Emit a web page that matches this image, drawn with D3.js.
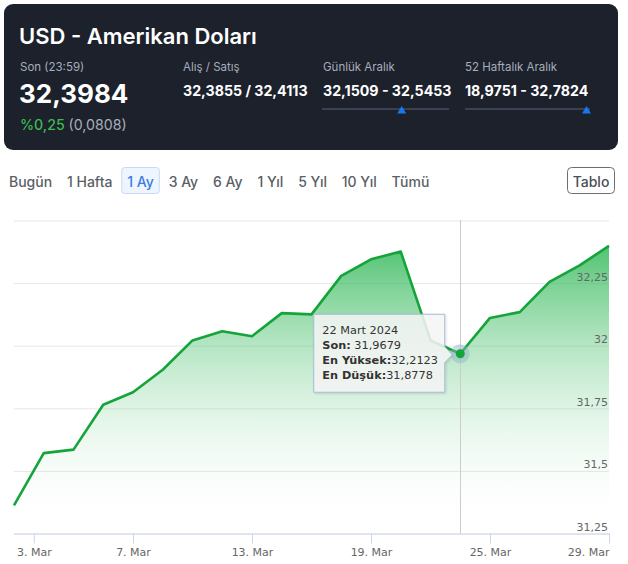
<!DOCTYPE html>
<html><head><meta charset="utf-8">
<script src="https://cdn.jsdelivr.net/npm/d3@7"></script>
<style>body{margin:0;background:#fff;} svg{display:block;}</style>
</head><body><div id="chart"></div>
<script>
// ---- data ----
const dates = ["2024-03-01","2024-03-04","2024-03-05","2024-03-06","2024-03-07","2024-03-08",
  "2024-03-11","2024-03-12","2024-03-13","2024-03-14","2024-03-15",
  "2024-03-18","2024-03-19","2024-03-20","2024-03-21","2024-03-22",
  "2024-03-25","2024-03-26","2024-03-27","2024-03-28","2024-03-29"];
const values = [31.362,31.571,31.585,31.764,31.814,31.904,
  32.021,32.058,32.038,32.130,32.125,
  32.279,32.345,32.376,32.021,31.9679,
  32.111,32.134,32.255,32.320,32.3984];
const xTickDates = ["2024-03-03","2024-03-07","2024-03-13","2024-03-19","2024-03-25","2024-03-29"];
const xTickLabels = ["3. Mar","7. Mar","13. Mar","19. Mar","25. Mar","29. Mar"];
const yTicks = [31.25,31.5,31.75,32,32.25,32.5];
const yTickLabels = ["31,25","31,5","31,75","32","32,25",""];
const rangeButtons = ["Bugün","1 Hafta","1 Ay","3 Ay","6 Ay","1 Yıl","5 Yıl","10 Yıl","Tümü"];
const activeButton = "1 Ay";
const title = "USD - Amerikan Doları";
const statLabels = ["Son (23:59)","Alış / Satış","Günlük Aralık","52 Haftalık Aralık"];
const statValues = ["32,3984","32,3855 / 32,4113","32,1509 - 32,5453","18,9751 - 32,7824"];
const rangeLows = [32.1509, 18.9751];
const rangeHighs = [32.5453, 32.7824];
const rangeCurrent = 32.3984;
const changePct = "%0,25";
const changeAbs = "(0,0808)";
const tooltipIndex = 15;
const tooltipDate = "22 Mart 2024";
const tooltipHigh = 32.2123;
const tooltipLow = 31.8778;

// ---- setup ----
const W = 628, H = 564;
const svg = d3.select("#chart").append("svg").attr("width", W).attr("height", H);
const UI = "Inter, 'Noto Sans', sans-serif";
const CH = "'DejaVu Sans', Verdana, sans-serif";
const loc = d3.formatLocale({decimal: ",", thousands: ".", grouping: [3], currency: ["", ""]});
const fmt4 = loc.format(".4f");

// ---- header panel ----
svg.append("rect").attr("x", 4).attr("y", 4).attr("width", 614).attr("height", 146)
  .attr("rx", 9).attr("fill", "#1c212c");
svg.append("text").attr("x", 19).attr("y", 44).attr("fill", "#fff")
  .attr("font-family", UI).attr("font-weight", 600).attr("font-size", 22).text(title);

const colX = [20, 183, 323, 465];
statLabels.forEach((s, i) => {
  svg.append("text").attr("x", colX[i]).attr("y", 71).attr("fill", "#a7aebb")
    .attr("font-family", UI).attr("font-size", 11.5).text(s);
});
svg.append("text").attr("x", colX[0] - 1).attr("y", 103).attr("fill", "#fff")
  .attr("font-family", UI).attr("font-weight", 700).attr("font-size", 26).text(statValues[0]);
statValues.slice(1).forEach((s, i) => {
  svg.append("text").attr("x", colX[i + 1]).attr("y", 96).attr("fill", "#fff")
    .attr("font-family", UI).attr("font-weight", 700).attr("font-size", 14.2).text(s);
});
const ch = svg.append("text").attr("x", 20).attr("y", 130).attr("font-family", UI).attr("font-size", 14.2);
ch.append("tspan").attr("fill", "#3fb950").attr("font-weight", 500).text(changePct + " ");
ch.append("tspan").attr("fill", "#a7aebb").text(changeAbs);

// range sliders
const sliderX = [[322, 449], [465, 590]];
sliderX.forEach((r, i) => {
  svg.append("line").attr("x1", r[0]).attr("x2", r[1]).attr("y1", 109).attr("y2", 109)
    .attr("stroke", "#394252").attr("stroke-width", 2);
  const s = d3.scaleLinear().domain([rangeLows[i], rangeHighs[i]]).range(r);
  const tx = s(rangeCurrent);
  svg.append("path").attr("d", `M${tx},106 L${tx + 4.5},113.5 L${tx - 4.5},113.5 Z`).attr("fill", "#1877f2");
});

// ---- range buttons ----
let bx = 9;
rangeButtons.forEach(b => {
  const active = b === activeButton;
  const g = svg.append("g");
  const t = g.append("text").attr("x", bx).attr("y", 186.5).attr("font-family", UI)
    .attr("font-size", 14).attr("font-weight", 500)
    .attr("fill", active ? "#3b7ddd" : "#5a5f66").text(b);
  const w = t.node().getComputedTextLength();
  if (active) {
    g.insert("rect", "text").attr("x", bx - 5.5).attr("y", 167.5).attr("width", w + 11).attr("height", 26)
      .attr("rx", 3).attr("fill", "#eef5fe").attr("stroke", "#c6daf5");
  }
  bx += w + 14.8;
});
svg.append("rect").attr("x", 567.5).attr("y", 167.5).attr("width", 47).attr("height", 26)
  .attr("rx", 4).attr("fill", "#fff").attr("stroke", "#6b6f75");
svg.append("text").attr("x", 591).attr("y", 186.5).attr("text-anchor", "middle").attr("font-family", UI)
  .attr("font-size", 14).attr("font-weight", 500).attr("fill", "#4a4e55").text("Tablo");

// ---- chart ----
const parse = d3.utcParse("%Y-%m-%d");
const dts = dates.map(parse);
const plotL = 14, plotR = 609, plotT = 220.5, plotB = 533.5;
const xi = d3.scaleLinear().domain([0, dts.length - 1]).range([plotL, plotR]);
// ordinal (trading-day) time axis: piecewise linear time scale
const x = d3.scaleUtc().domain(dts).range(dts.map((d, i) => xi(i)));
const y = d3.scaleLinear().domain([31.25, 32.5]).range([plotB, plotT]);

// gridlines
const grid = svg.append("g").attr("transform", `translate(${plotR},0)`)
  .call(d3.axisLeft(y).tickValues(yTicks).tickSize(plotR - plotL).tickFormat(""));
grid.select(".domain").remove();
grid.selectAll("line").attr("stroke", "#e6e6e6");

// area gradient
const defs = svg.append("defs");
const grad = defs.append("linearGradient").attr("id", "ag").attr("x1", 0).attr("y1", 0).attr("x2", 0).attr("y2", 1);
grad.append("stop").attr("offset", 0).attr("stop-color", "#1fb24a").attr("stop-opacity", 0.78);
grad.append("stop").attr("offset", 1).attr("stop-color", "#ffffff").attr("stop-opacity", 0);
const filt = defs.append("filter").attr("id", "sh").attr("x", -0.1).attr("y", -0.1).attr("width", 1.3).attr("height", 1.3);
filt.append("feDropShadow").attr("dx", 1).attr("dy", 1).attr("stdDeviation", 1.2).attr("flood-color", "#000").attr("flood-opacity", 0.15);

const pts = dts.map((d, i) => [x(d), y(values[i])]);
svg.append("path").datum(pts).attr("fill", "url(#ag)")
  .attr("d", d3.area().x(d => d[0]).y0(plotB).y1(d => d[1]));

// x axis
const xa = svg.append("g").attr("transform", `translate(0,${plotB})`)
  .call(d3.axisBottom(x).tickValues(xTickDates.map(parse)).tickSize(10).tickPadding(5)
    .tickFormat((d, i) => xTickLabels[i]));
xa.select(".domain").attr("stroke", "#ccd6eb").attr("d", `M${plotL},0.5H${plotR}`);
xa.selectAll(".tick line").attr("stroke", "#ccd6eb");
xa.selectAll(".tick text").attr("font-family", CH).attr("font-size", 11).attr("fill", "#666");
xa.selectAll(".tick text").filter((d, i) => i === xTickDates.length - 1).attr("text-anchor", "end");

// y labels
const ya = svg.append("g").attr("transform", `translate(${plotR - 1},0)`)
  .call(d3.axisLeft(y).tickValues(yTicks).tickSize(0).tickPadding(0).tickFormat((d, i) => yTickLabels[i]));
ya.select(".domain").remove();
ya.selectAll("text").attr("font-family", CH).attr("font-size", 11).attr("fill", "#666")
  .attr("dy", 0).attr("y", -3);

// crosshair
const px = x(dts[tooltipIndex]), py = y(values[tooltipIndex]);
svg.append("line").attr("x1", Math.round(px) + 0.5).attr("x2", Math.round(px) + 0.5)
  .attr("y1", plotT - 0.5).attr("y2", plotB).attr("stroke", "#cccccc");

// line
svg.append("path").datum(pts).attr("fill", "none").attr("stroke", "#14a43a").attr("stroke-width", 2.6)
  .attr("stroke-linejoin", "round").attr("d", d3.line().x(d => d[0]).y(d => d[1]));

// hover marker
svg.append("circle").attr("cx", px).attr("cy", py).attr("r", 9.5).attr("fill", "#8fb0cf").attr("opacity", 0.45);
svg.append("circle").attr("cx", px).attr("cy", py).attr("r", 4.5).attr("fill", "#14a43a");

// tooltip
const bR = px - 15.5, bL = bR - 131, bT = py - 39.5, bB = py + 38.5;
const tip = svg.append("g");
tip.append("path").attr("filter", "url(#sh)")
  .attr("d", `M${bL},${bT}H${bR}V${py - 7}L${px - 8},${py + 1}L${bR},${py + 9}V${bB}H${bL}Z`)
  .attr("fill", "rgba(247,247,247,0.85)").attr("stroke", "#a3bbd6").attr("stroke-width", 1);
const tl = bL + 8.5;
const tt = tip.append("text").attr("font-family", CH).attr("font-size", 11.3).attr("fill", "#333");
tt.append("tspan").attr("x", tl).attr("y", py - 19.5).text(tooltipDate);
const rows = [["Son:", " " + fmt4(values[tooltipIndex])], ["En Yüksek:", fmt4(tooltipHigh)], ["En Düşük:", fmt4(tooltipLow)]];
rows.forEach((r, i) => {
  const t = tip.append("text").attr("font-family", CH).attr("font-size", 11.3).attr("fill", "#333")
    .attr("x", tl).attr("y", py - 4.5 + i * 15);
  t.append("tspan").attr("font-weight", "bold").text(r[0]);
  t.append("tspan").text(r[1]);
});
</script></body></html>
